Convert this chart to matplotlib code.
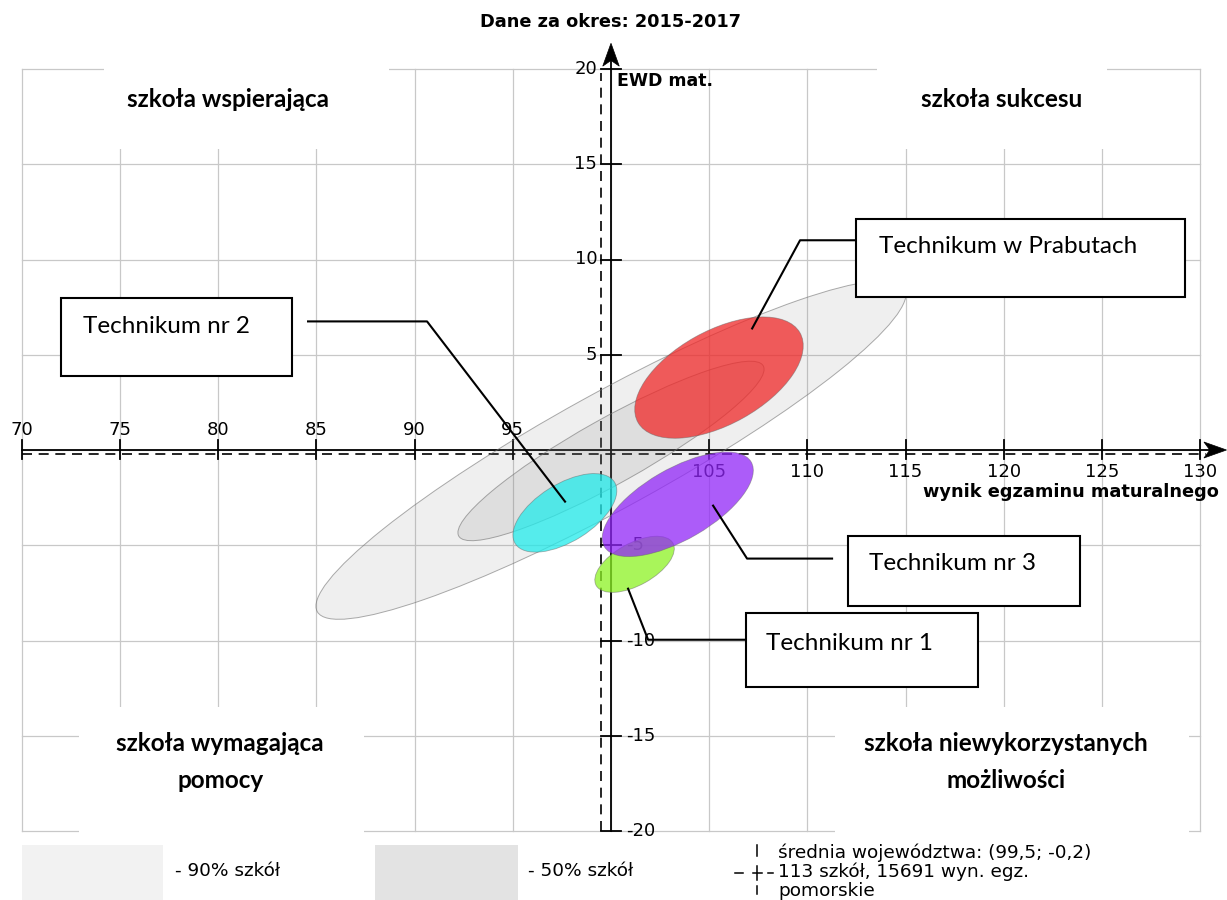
import matplotlib
matplotlib.use("Agg")
import matplotlib.pyplot as plt
from matplotlib.patches import Ellipse, Rectangle, Polygon

# ---------------- data ----------------
title = "Dane za okres: 2015-2017"
x_label = "wynik egzaminu maturalnego"
y_label = "EWD mat."
x_ticks = [70, 75, 80, 85, 90, 95, 105, 110, 115, 120, 125, 130]
y_ticks = [20, 15, 10, 5, -5, -10, -15, -20]
mean_x = 99.5
mean_y = -0.2

# reference areas (90% and 50% of schools)
ref_names = ["90% szkół", "50% szkół"]
ref_cx = [100.0, 100.0]
ref_cy = [0.0, -0.05]
ref_w = [34.4, 17.9]
ref_h = [6.0, 3.4]
ref_angle = [29.6, 30.0]

# schools
schools = ["Technikum w Prabutach", "Technikum nr 2", "Technikum nr 1", "Technikum nr 3"]
school_cx = [105.5, 97.65, 101.2, 103.4]
school_cy = [3.8, -3.3, -6.0, -2.85]
school_w = [9.5, 6.0, 4.5, 8.7]
school_h = [4.9, 3.0, 2.2, 3.7]
school_angle = [30, 33, 30, 31]
school_colors = ["#f02828", "#22ebeb", "#8cf223", "#9126f8"]

quadrants = ["szkoła wspierająca", "szkoła sukcesu",
             "szkoła wymagająca\npomocy", "szkoła niewykorzystanych\nmożliwości"]

legend_mean = "średnia województwa: (99,5; -0,2)\n113 szkół, 15691 wyn. egz.\npomorskie"

# ---------------- figure ----------------
W, H = 1227, 900
fig = plt.figure(figsize=(W / 100, H / 100), dpi=100)
ax = fig.add_axes([22 / W, 69 / H, 1178 / W, 762 / H])
ax.set_xlim(70, 130)
ax.set_ylim(-20, 20)
ax.axis("off")

grid_c = "#c8c8c8"
for gx in range(70, 131, 5):
    ax.plot([gx, gx], [-20, 20], color=grid_c, lw=0.9, zorder=0, clip_on=False)
for gy in range(-20, 21, 5):
    ax.plot([70, 130], [gy, gy], color=grid_c, lw=0.9, zorder=0, clip_on=False)

# white boxes behind quadrant labels
qboxes = [(74.2, 15.8, 14.5, 5.0), (113.56, 15.8, 11.7, 5.0),
          (72.9, -20.6, 14.5, 7.1), (111.42, -20.6, 18.0, 7.1)]
for (bx, by, bw, bh) in qboxes:
    ax.add_patch(Rectangle((bx, by), bw, bh, facecolor="white", edgecolor="none",
                           zorder=1, clip_on=False))

qfont = dict(family="Lato", fontweight="bold", fontsize=17.5, ha="center", va="center", zorder=2)
ax.text(80.5, 18.42, quadrants[0], **qfont)
ax.text(119.9, 18.42, quadrants[1], **qfont)
l1, l2 = quadrants[2].split("\n")
ax.text(80.1, -15.4, l1, **qfont)
ax.text(80.1, -17.35, l2, **qfont)
l1, l2 = quadrants[3].split("\n")
ax.text(120.1, -15.4, l1, **qfont)
ax.text(120.1, -17.35, l2, **qfont)

# mean dashed lines
dash = (0, (6, 4))
ax.plot([mean_x, mean_x], [-20, 19.8], color="black", lw=1.2, ls=dash, zorder=3, clip_on=False)
ax.plot([70, 130.3], [mean_y, mean_y], color="black", lw=1.2, ls=dash, zorder=3, clip_on=False)

# axes through (100, 0)
x_tip = 131.35
y_tip = 21.35
ax.plot([70, x_tip - 0.8], [0, 0], color="black", lw=1.3, zorder=4, clip_on=False)
ax.plot([100, 100], [-20, y_tip - 0.8], color="black", lw=1.3, zorder=4, clip_on=False)
ax.add_patch(Polygon([(x_tip, 0), (x_tip - 1.15, 0.42), (x_tip - 0.85, 0), (x_tip - 1.15, -0.42)],
                     closed=True, facecolor="black", edgecolor="black", lw=0.5, zorder=4,
                     clip_on=False))
ax.add_patch(Polygon([(100, y_tip), (100.42, y_tip - 1.2), (100, y_tip - 0.9), (99.58, y_tip - 1.2)],
                     closed=True, facecolor="black", edgecolor="black", lw=0.5, zorder=4,
                     clip_on=False))

for t in x_ticks:
    ax.plot([t, t], [-0.45, 0.5], color="black", lw=1.3, zorder=4, clip_on=False)
    if t < 100:
        ax.text(t, 1.05, str(t), ha="center", va="center", fontsize=13, zorder=4)
    else:
        ax.text(t, -1.15, str(t), ha="center", va="center", fontsize=13, zorder=4)
for t in y_ticks:
    ax.plot([99.5, 100.5], [t, t], color="black", lw=1.3, zorder=4, clip_on=False)
    if t > 0:
        ax.text(99.3, t, str(t), ha="right", va="center", fontsize=13, zorder=4)
    else:
        ax.text(100.75, t, str(t), ha="left", va="center", fontsize=13, zorder=4)

ax.text(100.3, 19.35, y_label, ha="left", va="center", fontsize=12.5, fontweight="bold", zorder=4)
ax.text(130.95, -2.2, x_label, ha="right", va="center", fontsize=12.8, fontweight="bold", zorder=4)
fig.text(610 / W, 1 - 22 / H, title, ha="center", va="center", fontsize=12.8, fontweight="bold")

# reference ellipses
ref_alpha = [0.12, 0.15]
for i in range(len(ref_names)):
    ax.add_patch(Ellipse((ref_cx[i], ref_cy[i]), ref_w[i], ref_h[i], angle=ref_angle[i],
                         facecolor=(0.5, 0.5, 0.5, ref_alpha[i]),
                         edgecolor=(0.45, 0.45, 0.45, 0.6), lw=0.7, zorder=5))

# school ellipses
for i in range(len(schools)):
    ax.add_patch(Ellipse((school_cx[i], school_cy[i]), school_w[i], school_h[i],
                         angle=school_angle[i], facecolor=school_colors[i], alpha=0.75,
                         edgecolor="none", zorder=6))
    ax.add_patch(Ellipse((school_cx[i], school_cy[i]), school_w[i], school_h[i],
                         angle=school_angle[i], facecolor="none",
                         edgecolor=(0.4, 0.4, 0.4, 0.5), lw=0.6, zorder=6))

# callouts: label box (x0, y0, x1, y1), text position, leader path
callouts = [
    (schools[0], (112.49, 8.01, 129.25, 12.11), (113.66, 10.69),
     [(107.19, 6.38), (109.63, 11.01), (112.49, 11.01)]),
    (schools[1], (71.99, 3.86, 83.75, 7.96), (73.11, 6.49),
     [(84.57, 6.75), (90.63, 6.75), (97.66, -2.71)]),
    (schools[3], (112.08, -8.17, 123.9, -4.49), (113.15, -5.96),
     [(105.2, -2.92), (106.93, -5.70), (111.26, -5.70)]),
    (schools[2], (106.88, -12.43, 118.7, -8.54), (107.9, -10.17),
     [(100.87, -7.28), (101.89, -9.96), (106.88, -9.96)]),
]
for name, (x0, y0, x1, y1), (tx, ty), path in callouts:
    ax.add_patch(Rectangle((x0, y0), x1 - x0, y1 - y0, facecolor="white", edgecolor="black",
                           lw=1.5, zorder=8, clip_on=False))
    ax.text(tx, ty, name, family="Lato", fontsize=17.5, ha="left", va="center", zorder=9)
    xs = [p[0] for p in path]
    ys = [p[1] for p in path]
    ax.plot(xs, ys, color="black", lw=1.5, zorder=7, clip_on=False)

# legend at bottom (figure pixel coords)
def fx(px):
    return px / W

def fy(py):
    return 1 - py / H

fig.patches.append(Rectangle((fx(22), fy(900)), fx(163) - fx(22), fy(845) - fy(900),
                             transform=fig.transFigure, facecolor="#f2f2f2", edgecolor="none"))
fig.patches.append(Rectangle((fx(375), fy(900)), fx(518) - fx(375), fy(845) - fy(900),
                             transform=fig.transFigure, facecolor="#e3e3e3", edgecolor="none"))
fig.text(fx(175), fy(871), "- " + ref_names[0], ha="left", va="center", fontsize=13.3)
fig.text(fx(528), fy(871), "- " + ref_names[1], ha="left", va="center", fontsize=13.3)
for (a, b) in [(735, 743), (753, 762), (768, 773)]:
    fig.add_artist(plt.Line2D([fx(a), fx(b)], [fy(873), fy(873)], transform=fig.transFigure,
                              color="black", lw=1.1))
for (a, b) in [(845, 856), (866, 880), (886, 894)]:
    fig.add_artist(plt.Line2D([fx(757), fx(757)], [fy(a), fy(b)], transform=fig.transFigure,
                              color="black", lw=1.1))
for k, line in enumerate(legend_mean.split("\n")):
    fig.text(fx(778), fy(853 + 19 * k), line, ha="left", va="center", fontsize=13.3)

fig.savefig("out.png", dpi=100)
